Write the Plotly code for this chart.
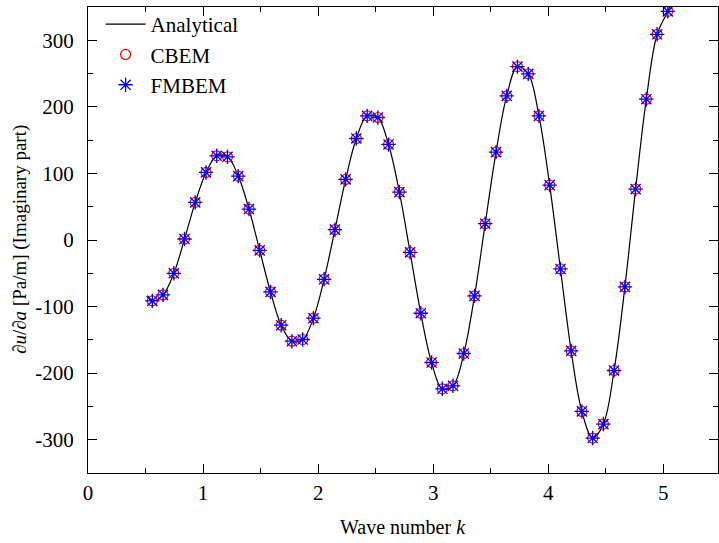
import plotly.graph_objects as go

# Wave numbers of the sampled points
k_pts = [0.559, 0.652, 0.746, 0.839, 0.932, 1.026, 1.119, 1.212, 1.306, 1.399,
         1.492, 1.586, 1.679, 1.772, 1.866, 1.959, 2.052, 2.146, 2.239, 2.332,
         2.426, 2.519, 2.612, 2.706, 2.799, 2.892, 2.986, 3.079, 3.172, 3.266,
         3.359, 3.452, 3.546, 3.639, 3.732, 3.826, 3.919, 4.012, 4.106, 4.199,
         4.292, 4.386, 4.479, 4.572, 4.666, 4.759, 4.852, 4.946, 5.039]
# CBEM / FMBEM values (imaginary part), Pa/m
cbem = [-91.5, -82.5, -50, 1.5, 56.5, 101.5, 126.5, 125, 96, 46.5,
        -15.5, -78, -128, -152, -149.5, -117.5, -59, 15.5, 91, 152.5,
        186.5, 184, 143.5, 72, -18.5, -110, -184, -223.5, -219, -170.5,
        -84, 24.5, 132, 216.5, 260.5, 249.5, 186.5, 82.5, -43.5, -166.5,
        -257.5, -297.5, -276.5, -196, -70.5, 76.5, 211.5, 309, 343.5]
fmbem = [-91.5, -82.5, -50, 1.5, 56.5, 101.5, 126.5, 125, 96, 46.5,
         -15.5, -78, -128, -152, -149.5, -117.5, -59, 15.5, 91, 152.5,
         186.5, 184, 143.5, 72, -18.5, -110, -184, -223.5, -219, -170.5,
         -84, 24.5, 132, 216.5, 260.5, 249.5, 186.5, 82.5, -43.5, -166.5,
         -257.5, -297.5, -276.5, -196, -70.5, 76.5, 211.5, 309, 343.5]
k_ana = [0.51] + k_pts + [5.10]
ana = [-84] + cbem + [368]

y_ticks = [-300, -200, -100, 0, 100, 200, 300]
y_ticktext = ["-300", "-200", "-100", "0", "100", "200", "300"]
x_ticks = [0, 1, 2, 3, 4, 5]
x_ticktext = ["0", "1", "2", "3", "4", "5"]

FONT = "Liberation Serif"
TICK_SIZE = 21

fig = go.Figure()
fig.add_trace(go.Scatter(x=k_ana, y=ana, mode="lines", name="Analytical",
                         line=dict(color="black", width=1.2, shape="spline", smoothing=1.0)))
fig.add_trace(go.Scatter(x=k_pts, y=cbem, mode="markers", name="CBEM",
                         marker=dict(symbol="circle-open", size=10, color="red",
                                     line=dict(color="red", width=1.2))))
fig.add_trace(go.Scatter(x=k_pts, y=fmbem, mode="markers", name="FMBEM",
                         marker=dict(symbol="asterisk-open", size=12, color="blue",
                                     line=dict(color="blue", width=1.3))))

axis_common = dict(showline=True, linecolor="black", linewidth=1, mirror="allticks",
                   ticks="inside", tickcolor="black", ticklen=9, tickwidth=1,
                   showgrid=False, zeroline=False, automargin=False,
                   tickfont=dict(family=FONT, size=TICK_SIZE, color="black"))

fig.update_xaxes(range=[0, 5.475], tickvals=x_ticks, ticktext=x_ticktext, ticklabelstandoff=1,
                 minor=dict(ticks="inside", ticklen=5, dtick=0.5, tick0=0, tickcolor="black", showgrid=False),
                 **axis_common)
fig.update_yaxes(range=[-350, 350], tickvals=y_ticks, ticktext=y_ticktext, ticklabelstandoff=9,
                 minor=dict(ticks="inside", ticklen=5, dtick=50, tick0=0, tickcolor="black", showgrid=False),
                 **axis_common)

fig.add_annotation(text="Wave number <i>k</i>", xref="paper", yref="paper",
                   x=0.5, y=0, yshift=-54, xanchor="center", yanchor="middle",
                   showarrow=False, font=dict(family=FONT, size=20, color="black"))
fig.add_annotation(text="∂<i>u</i>/∂<i>a</i> [Pa/m] (Imaginary part)", xref="paper", yref="paper",
                   x=0, y=0.5, xshift=-68, xanchor="center", yanchor="middle", textangle=-90,
                   showarrow=False, font=dict(family=FONT, size=19, color="black"))

fig.update_layout(width=719, height=543, margin=dict(l=88, r=1, t=7, b=70),
                  paper_bgcolor="white", plot_bgcolor="white",
                  font=dict(family=FONT, size=TICK_SIZE, color="black"),
                  legend=dict(x=0.02, y=1.0064, xanchor="left", yanchor="top",
                              bgcolor="rgba(0,0,0,0)", font=dict(family=FONT, size=TICK_SIZE),
                              tracegroupgap=0, itemwidth=40),
                  showlegend=True)

fig.write_html("out.html", config={"displayModeBar": False},
               post_script="document.body.style.margin='0';document.body.style.overflow='hidden';")
